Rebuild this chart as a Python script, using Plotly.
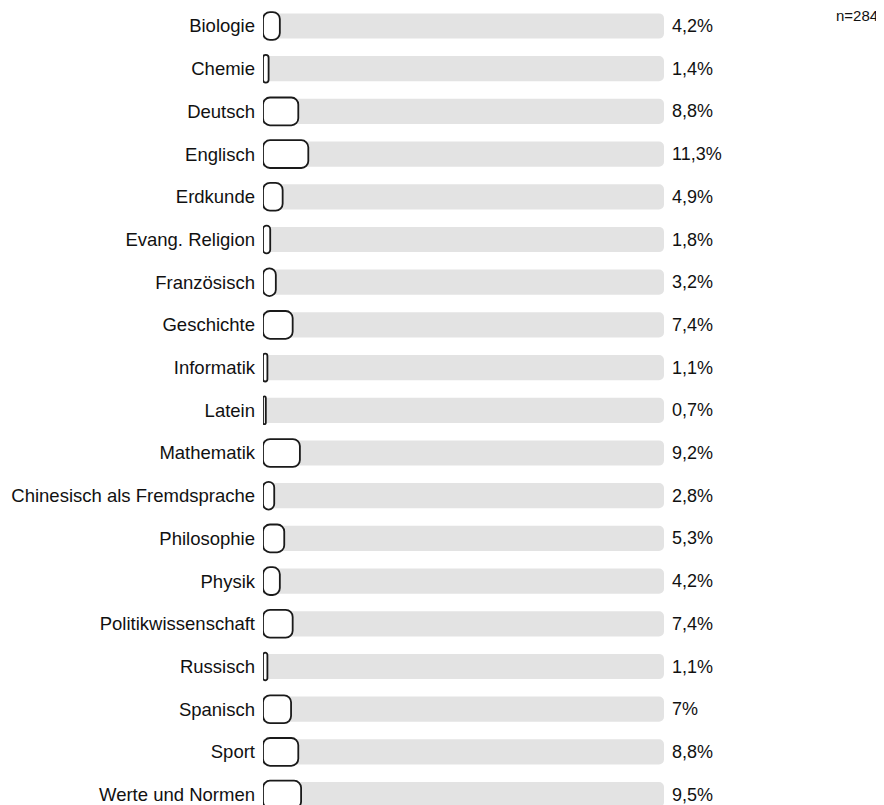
import plotly.graph_objects as go

categories = ["Biologie", "Chemie", "Deutsch", "Englisch", "Erdkunde", "Evang. Religion",
              "Französisch", "Geschichte", "Informatik", "Latein", "Mathematik",
              "Chinesisch als Fremdsprache", "Philosophie", "Physik", "Politikwissenschaft",
              "Russisch", "Spanisch", "Sport", "Werte und Normen"]
values = [4.2, 1.4, 8.8, 11.3, 4.9, 1.8, 3.2, 7.4, 1.1, 0.7, 9.2, 2.8, 5.3, 4.2, 7.4, 1.1, 7.0, 8.8, 9.5]
value_labels = ["4,2%", "1,4%", "8,8%", "11,3%", "4,9%", "1,8%", "3,2%", "7,4%", "1,1%", "0,7%",
                "9,2%", "2,8%", "5,3%", "4,2%", "7,4%", "1,1%", "7%", "8,8%", "9,5%"]
track = [100] * len(categories)
n_label = "n=284"

FONT = "Arial, Liberation Sans, sans-serif"

# page body has an 8px margin; the figure is sized so it ends at the window edge
W, H = 876, 797
OFF = 8

fig = go.Figure()
fig.add_trace(go.Bar(
    y=categories, x=track, orientation="h", width=0.59,
    marker=dict(color="#e3e3e3", line=dict(width=0), cornerradius=5),
    hoverinfo="skip", showlegend=False,
))
fig.add_trace(go.Bar(
    y=categories, x=values, base=[0] * len(values), orientation="h", width=0.65,
    marker=dict(color="white", line=dict(color="#1a1a1a", width=1.8), cornerradius=7),
    showlegend=False, hovertemplate="%{y}: %{x}%<extra></extra>",
))
for cat, lab in zip(categories, value_labels):
    fig.add_annotation(x=100, y=cat, text=lab, showarrow=False, xanchor="left",
                       xshift=6, font=dict(family=FONT, size=18, color="#111"))
fig.add_annotation(x=1, y=1, xref="paper", yref="paper", text=n_label, showarrow=False,
                   xanchor="right", yanchor="top", xshift=-4, yshift=3,
                   font=dict(family=FONT, size=15, color="#111"))

step = 42.7
top_idx = -(26 - OFF) / step
bottom_idx = top_idx + H / step
fig.update_layout(
    width=W, height=H,
    margin=dict(l=263 - OFF, r=0, t=0, b=0),
    paper_bgcolor="white", plot_bgcolor="white",
    barmode="overlay",
    xaxis=dict(range=[0, (W - 263 + OFF) / 4.01], visible=False, fixedrange=True),
    yaxis=dict(range=[bottom_idx, top_idx], showgrid=False, zeroline=False, showline=False,
               ticks="", ticklabelstandoff=7, automargin=False,
               tickfont=dict(family=FONT, size=18.5, color="#111")),
    font=dict(family=FONT),
)
fig.write_html("out.html")
